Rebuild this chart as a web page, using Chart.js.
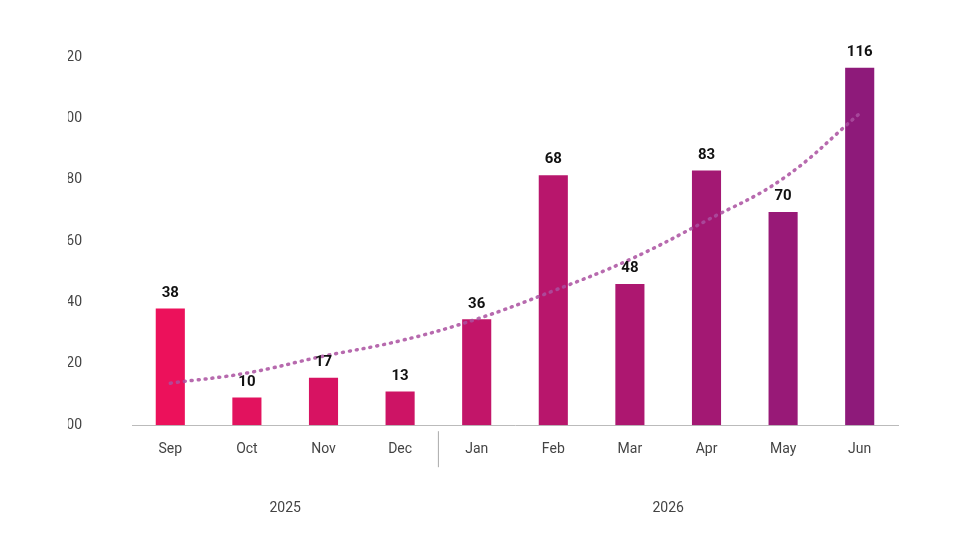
<!DOCTYPE html>
<html>
<head>
<meta charset="utf-8">
<script src="https://cdn.jsdelivr.net/npm/chart.js@4/dist/chart.umd.min.js"></script>
<style>
  body { margin: 0; background: #fff; }
  #wrap { width: 960px; height: 554px; }
</style>
</head>
<body>
<div id="wrap"><canvas id="salesChart"></canvas></div>
<script>
const months = ["Sep", "Oct", "Nov", "Dec", "Jan", "Feb", "Mar", "Apr", "May", "Jun"];
const barValues = [38, 9, 15.5, 11, 34.5, 81.5, 46, 83, 69.5, 116.5];
const barLabels = ["38", "10", "17", "13", "36", "68", "48", "83", "70", "116"];
const trendValues = [13.7, 17, 22.5, 27.5, 34.6, 43.8, 54, 66.7, 80.4, 101.6];
const yTicks = [0, 20, 40, 60, 80, 100, 120];
const years = [{ label: "2025", from: 0, to: 3 }, { label: "2026", from: 4, to: 9 }];

const START = [236, 17, 91];
const END = [142, 26, 122];
const barColors = months.map((m, i) => {
    const t = i / (months.length - 1);
    const c = START.map((s, k) => Math.round(s + (END[k] - s) * t));
    return `rgb(${c[0]},${c[1]},${c[2]})`;
});

const extras = {
    id: "extras",
    afterDatasetsDraw(chart) {
        const ctx = chart.ctx;
        const x = chart.scales.x;
        const meta = chart.getDatasetMeta(1);
        ctx.save();
        ctx.fillStyle = "#111";
        ctx.font = "bold 15px Roboto";
        ctx.textAlign = "center";
        ctx.textBaseline = "bottom";
        meta.data.forEach((bar, i) => {
            ctx.fillText(barLabels[i], bar.x, bar.y - 8);
        });
        // divider between years
        const dx = (x.getPixelForValue(3) + x.getPixelForValue(4)) / 2;
        ctx.strokeStyle = "#aaa";
        ctx.lineWidth = 1;
        ctx.beginPath();
        ctx.moveTo(dx, chart.chartArea.bottom + 6);
        ctx.lineTo(dx, chart.chartArea.bottom + 42);
        ctx.stroke();
        ctx.fillStyle = "#444";
        ctx.font = "14px Roboto";
        ctx.textBaseline = "middle";
        years.forEach(y => {
            const cx = (x.getPixelForValue(y.from) + x.getPixelForValue(y.to)) / 2;
            ctx.fillText(y.label, cx, chart.chartArea.bottom + 83);
        });
        ctx.restore();
    }
};

new Chart(document.getElementById("salesChart"), {
    data: {
        labels: months,
        datasets: [
            {
                type: "line",
                data: trendValues,
                borderColor: "rgba(170,80,160,0.85)",
                borderWidth: 3.5,
                borderDash: [1, 6],
                borderCapStyle: "round",
                pointRadius: 0,
                tension: 0.4,
                fill: false,
                order: 0
            },
            {
                type: "bar",
                data: barValues,
                backgroundColor: barColors,
                barPercentage: 0.38,
                categoryPercentage: 1,
                order: 1
            }
        ]
    },
    options: {
        responsive: true,
        maintainAspectRatio: false,
        animation: false,
        layout: { padding: { left: 68, right: 62, top: 57, bottom: 88 } },
        plugins: { legend: { display: false }, tooltip: { enabled: false } },
        scales: {
            x: {
                grid: { display: false },
                border: { color: "#bbb" },
                ticks: { color: "#444", font: { family: "Roboto", size: 14 }, padding: 8 }
            },
            y: {
                min: 0, max: 120,
                afterBuildTicks: axis => { axis.ticks = yTicks.map(v => ({ value: v })); },
                grid: { display: false },
                border: { display: false },
                ticks: {
                    color: "#444",
                    font: { family: "Roboto", size: 14 },
                    padding: 42,
                    mirror: false,
                    callback: v => v === 0 ? "00" : String(v)
                },
                afterFit: axis => { axis.width = 64; }
            }
        }
    },
    plugins: [extras]
});
</script>
</body>
</html>
